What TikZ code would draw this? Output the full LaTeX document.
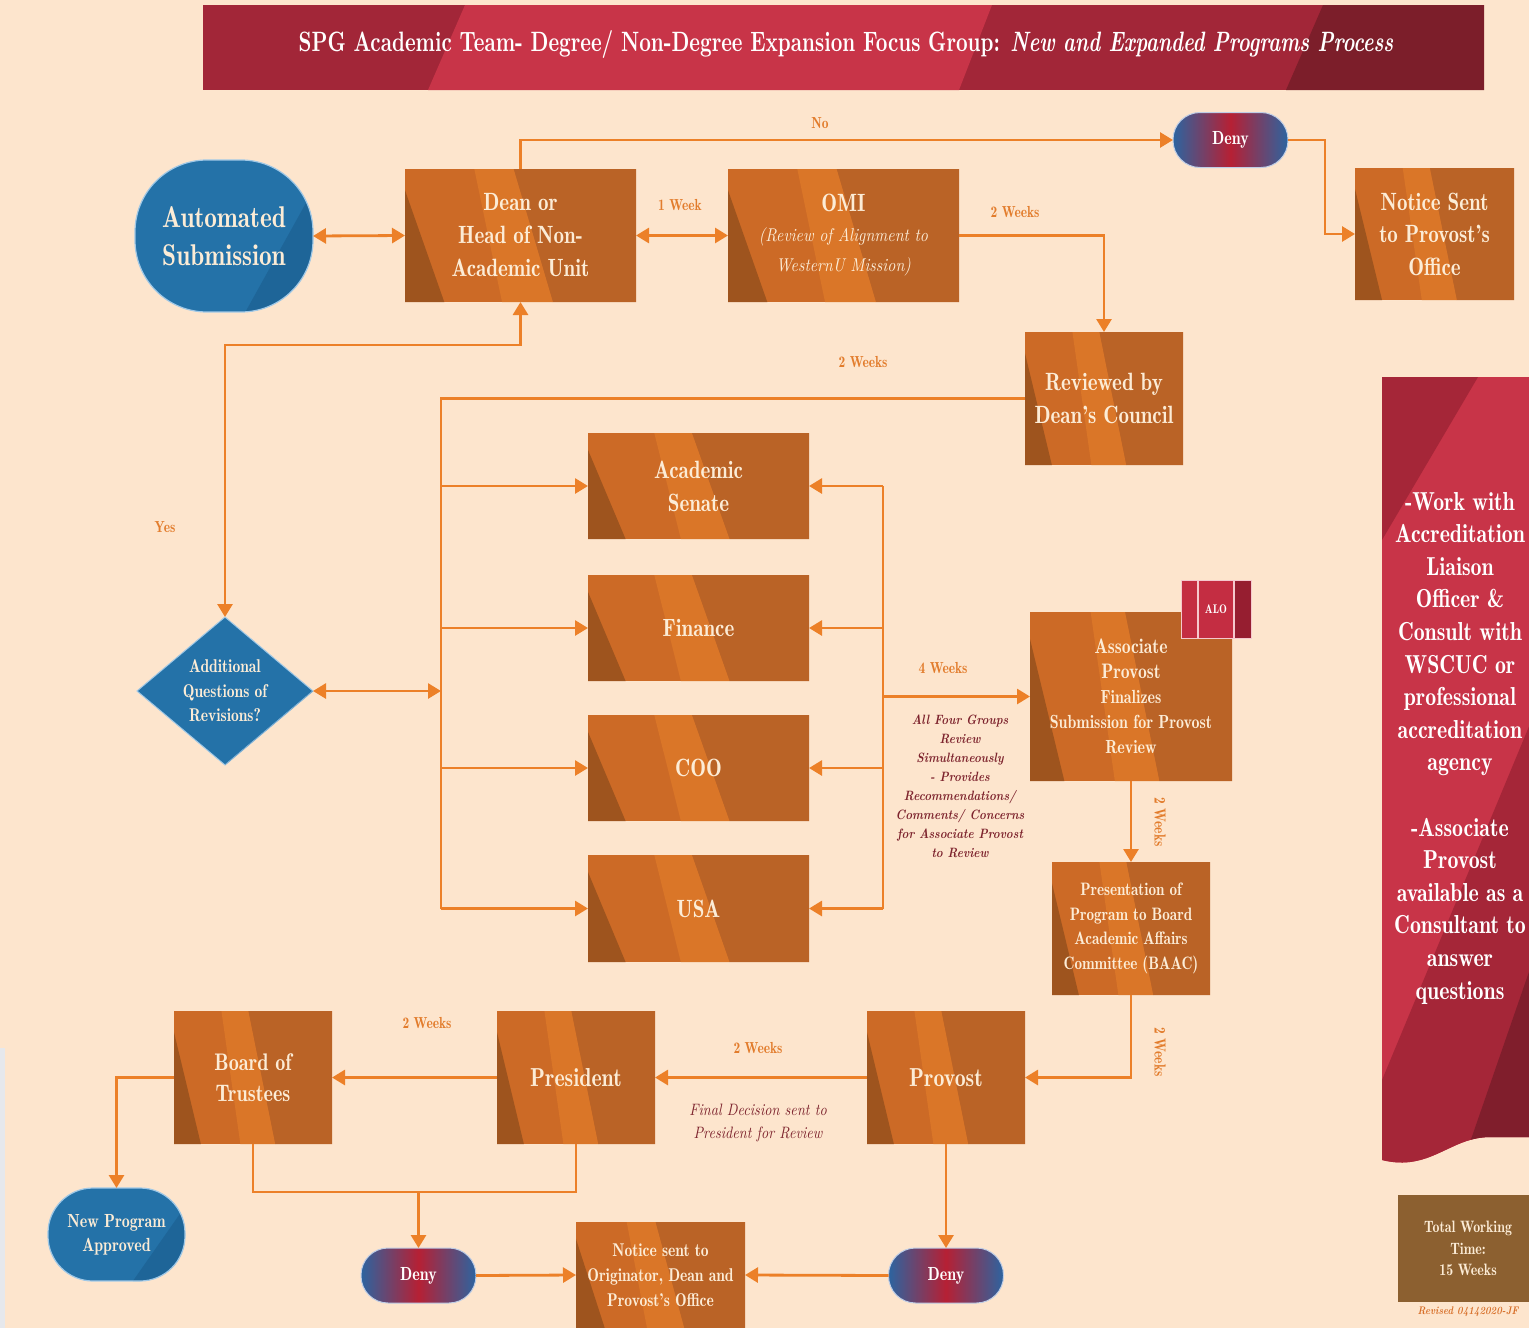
\documentclass[tikz,border=0pt]{standalone}
\usepackage{fontspec}
\setmainfont{lmroman10-regular.otf}[FakeStretch=0.86, BoldFont=lmroman10-bold.otf, ItalicFont=lmroman10-italic.otf, BoldItalicFont=lmroman10-bolditalic.otf]
\newfontfamily\demi{lmromandemi10-regular.otf}[FakeStretch=0.84]
\usetikzlibrary{arrows.meta,calc}
\definecolor{bg}{RGB}{253,229,205}
\definecolor{lineor}{RGB}{236,128,40}
\definecolor{labelor}{RGB}{226,124,44}
\definecolor{notered}{RGB}{125,35,45}
\definecolor{cream}{RGB}{252,236,214}
\definecolor{boxbase}{RGB}{204,106,38}
\definecolor{boxdark}{RGB}{158,84,30}
\definecolor{boxlight}{RGB}{218,118,40}
\definecolor{boxright}{RGB}{186,99,38}
\definecolor{bluebase}{RGB}{36,114,168}
\definecolor{bluedark}{RGB}{30,101,152}
\definecolor{bluerim}{RGB}{160,200,230}
\definecolor{denyblue}{RGB}{44,100,160}
\definecolor{denyred}{RGB}{182,32,52}
\definecolor{pillrim}{RGB}{190,205,230}
\definecolor{tdark}{RGB}{162,38,56}
\definecolor{tlight}{RGB}{200,52,72}
\definecolor{tdarkest}{RGB}{124,30,42}
\definecolor{pnlbase}{RGB}{200,52,72}
\definecolor{pnldark}{RGB}{165,38,56}
\definecolor{pnldarkest}{RGB}{128,30,44}
\definecolor{alored}{RGB}{196,45,66}
\definecolor{alodark}{RGB}{150,30,48}
\definecolor{alorim}{RGB}{245,200,205}
\definecolor{brownbox}{RGB}{140,96,48}
\definecolor{revor}{RGB}{215,110,40}
\definecolor{graystrip}{RGB}{230,232,236}
\newcommand\fsz[2]{\fontsize{#1}{#2}\selectfont}
\tikzset{
  conn/.style={draw=lineor, line width=2.8pt},
  >={Triangle[length=13pt,width=15pt]},
  boxtext/.style={text=cream, align=center, inner sep=0pt, outer sep=0pt},
  lbl/.style={text=labelor, font=\demi\fsz{16}{18}},
  note/.style={text=notered, align=center},
  denypill/.style={rounded corners=27pt, left color=denyblue, right color=denyblue, middle color=denyred, draw=pillrim, line width=1pt, minimum width=115pt, minimum height=55pt, text=white, font=\demi\fsz{19}{22}, inner sep=0pt, outer sep=0pt},
}
% orange striped box: name, x1, y1, x2, y2, font, text
\newcommand\obox[7]{%
  \begin{scope}[shift={(#2,#3)},xscale={#4-#2},yscale={#5-#3}]
    \fill[boxbase] (0,0) rectangle (1,1);
    \fill[boxright] (0.47,0) -- (1,0) -- (1,1) -- (0.64,1) -- cycle;
    \fill[boxlight] (0.30,0) -- (0.47,0) -- (0.64,1) -- (0.42,1) -- cycle;
    \fill[boxdark] (0,0.16) -- (0.17,1) -- (0,1) -- cycle;
  \end{scope}
  \node[boxtext, font=\demi#6, minimum width={#4-#2}, minimum height={#5-#3}] (#1) at ({(#2+#4)/2},{(#3+#5)/2}) {#7};}
% blue terminator: name, cx, cy, w, h, r, font, text
\newcommand\bshape[8]{%
  \begin{scope}
    \clip[rounded corners=#6] ({#2-#4/2},{#3-#5/2}) rectangle ({#2+#4/2},{#3+#5/2});
    \fill[bluebase] ({#2-#4/2},{#3-#5/2}) rectangle ({#2+#4/2},{#3+#5/2});
    \fill[bluedark] ({#2+0.12*#4},{#3+#5/2}) -- ({#2+#4/2},{#3-0.3*#5}) -- ({#2+#4/2},{#3+#5/2}) -- cycle;
  \end{scope}
  \node[boxtext, draw=bluerim, line width=1.2pt, rounded corners=#6, font=\demi#7, minimum width=#4, minimum height=#5] (#1) at (#2,#3) {#8};}
\begin{document}
\begin{tikzpicture}[x=1pt,y=-1pt]
\useasboundingbox (0,0) rectangle (1529,1328);
\clip (0,0) rectangle (1529,1328);
\fill[bg] (0,0) rectangle (1529,1328);
\fill[graystrip] (0,1048) rectangle (5,1328);

% title bar
\fill[tdark] (203,5) rectangle (1484,90);
\fill[tlight] (465,5) -- (992,5) -- (959,90) -- (428,90) -- cycle;
\fill[tdarkest] (1323,5) -- (1484,5) -- (1484,90) -- (1286,90) -- cycle;
\node[text=white, font=\rmfamily\bfseries\fsz{28}{30}] (title) at (846,44) {\scalebox{0.84}[1]{\rmfamily\bfseries\fsz{28}{30}SPG Academic Team- Degree/ Non-Degree Expansion Focus Group: \itshape New and Expanded Programs Process}};

% right panel
\begin{scope}
  \clip (1382,377) -- (1540,377) -- (1540,1137) -- (1490,1137) .. controls (1450,1137) and (1430,1172) .. (1382,1160) -- cycle;
  \fill[pnlbase] (1370,370) rectangle (1540,1200);
  \fill[pnldark] (1382,377) -- (1478,377) -- (1382,540) -- cycle;
  \fill[pnldark] (1540,700) -- (1540,1200) -- (1382,1200) -- (1382,1080) -- cycle;
  \fill[pnldarkest] (1540,940) -- (1540,1200) -- (1450,1200) -- cycle;
\end{scope}
\node[text=white, align=center, font=\demi\fsz{26}{32.6}] (panel) at (1460,748) {-Work with\\Accreditation\\Liaison\\Officer \&\\Consult with\\WSCUC or\\professional\\accreditation\\agency\\[32.6pt]-Associate\\Provost\\available as a\\Consultant to\\answer\\questions};

% blue shapes
\bshape{auto}{224}{236}{178}{152}{72pt}{\fsz{30}{38}}{Automated\\Submission}
\bshape{newp}{116.5}{1234.5}{137}{93}{45pt}{\fsz{19}{24}}{New Program\\Approved}

% diamond
\fill[bluebase, draw=bluerim, line width=1pt] (137,691) -- (225,617) -- (313,691) -- (225,765) -- cycle;
\fill[bluedark] (269,728) -- (313,691) -- (225,765) -- cycle;
\node[boxtext, font=\demi\fsz{18.5}{24.5}, minimum width=176pt, minimum height=148pt] (diam) at (225,691) {Additional\\Questions of\\Revisions?};

% orange boxes
\obox{dean}{405}{169}{636}{302}{\fsz{25}{33}}{Dean or\\Head of Non-\\Academic Unit}
\obox{omi}{728}{169}{959}{302}{\fsz{25}{30}}{OMI\\\rmfamily\itshape\fsz{18.5}{30}(Review of Alignment to\\\rmfamily\itshape\fsz{18.5}{30}WesternU Mission)}
\obox{notice1}{1355}{168}{1514}{300}{\fsz{25}{32.5}}{Notice Sent\\to Provost’s\\Office}
\obox{rev}{1025}{332}{1183}{465}{\fsz{25}{33}}{Reviewed by\\Dean’s Council}
\obox{acad}{588}{433}{809}{539}{\fsz{25}{33}}{Academic\\Senate}
\obox{fin}{588}{575}{809}{681}{\fsz{25}{33}}{Finance}
\obox{coo}{588}{715}{809}{821}{\fsz{25}{33}}{COO}
\obox{usa}{588}{855}{809}{962}{\fsz{25}{33}}{USA}
\obox{asp}{1030}{612}{1232}{781}{\fsz{19}{25}}{\fsz{21}{25}Associate\\\fsz{21}{27}Provost\\Finalizes\\Submission for Provost\\Review}
\obox{baac}{1052}{862}{1210}{995}{\fsz{18}{24.5}}{Presentation of\\Program to Board\\Academic Affairs\\Committee (BAAC)}
\obox{prov}{867}{1011}{1025}{1144}{\fsz{26}{31}}{Provost}
\obox{pres}{497}{1011}{655}{1144}{\fsz{26}{31}}{President}
\obox{bot}{174}{1011}{332}{1144}{\fsz{24}{31}}{Board of\\Trustees}
\obox{notice2}{576}{1222}{745}{1328}{\fsz{18.5}{25}}{Notice sent to\\Originator, Dean and\\Provost’s Office}

% ALO tag
\node[fill=alored, draw=alorim, line width=1pt, minimum width=70pt, minimum height=58pt, inner sep=0pt, text=white, font=\demi\fsz{12.5}{15}] (alo) at (1216,609) {ALO};
\fill[alodark] (1234,580.5) rectangle (1250.5,637.5);
\draw[alorim, line width=1.5pt] (1198,580) -- (1198,638) (1234,580) -- (1234,638);

% deny pills
\node[denypill] (deny1) at (1230.5,140) {Deny};
\node[denypill] (deny2) at (418.5,1275.5) {Deny};
\node[denypill] (deny3) at (946,1275.5) {Deny};

% total time box
\node[fill=brownbox, minimum width=140pt, minimum height=107pt, text=cream, align=center, font=\demi\fsz{16.5}{21.5}, inner sep=0pt] (total) at (1468,1248.5) {Total Working\\Time:\\15 Weeks};
\node[text=revor, font=\bfseries\itshape\fsz{11}{14}] (revised) at (1468,1312) {Revised 04142020-JF};

% connectors
\draw[conn,<->] (auto.east) -- (dean.west);
\draw[conn,<->] (dean.east) -- (omi.west);
\draw[conn,->] (dean.north) |- (deny1.west);
\draw[conn,->] (deny1.east) -- ++(37,0) |- (notice1.west);
\draw[conn,->] (omi.east) -| (rev.north);
\coordinate (tl) at (441,398.5);
\draw[conn] (rev.west) -- (tl) -- (tl |- usa.west);
\foreach \n in {acad,fin,coo,usa} \draw[conn,->] (tl |- \n.west) -- (\n.west);
\draw[conn,<->] (diam.east) -- (tl |- diam.east);
\coordinate (yc) at (225,345);
\draw[conn,<->] (diam.north) -- (yc) -| (dean.south);
\coordinate (tr) at (883,486);
\draw[conn] (tr) -- (tr |- usa.east);
\foreach \n in {acad,fin,coo,usa} \draw[conn,->] (tr |- \n.east) -- (\n.east);
\draw[conn,->] (tr |- asp.west) -- (asp.west);
\draw[conn,->] (asp.south) -- (baac.north);
\draw[conn,->] (baac.south) |- (prov.east);
\draw[conn,->] (prov.west) -- (pres.east);
\draw[conn,->] (pres.west) -- (bot.east);
\draw[conn,->] (bot.west) -| (newp.north);
\coordinate (bj) at (418.5,1192);
\draw[conn] (bot.south) |- (bj) -| (pres.south);
\draw[conn,->] (bj) -- (deny2.north);
\draw[conn,->] (deny2.east) -- (notice2.west);
\draw[conn,->] (prov.south) -- (deny3.north);
\draw[conn,->] (deny3.west) -- (notice2.east);

% labels
\node[lbl] (lno) at (820,123) {No};
\node[lbl] (l1w) at (680,205) {1 Week};
\node[lbl] (l2a) at (1015,212) {2 Weeks};
\node[lbl] (l2b) at (863,362) {2 Weeks};
\node[lbl] (lyes) at (165,527) {Yes};
\node[lbl] (l4w) at (943,668) {4 Weeks};
\node[lbl, rotate=-90] (l2c) at (1160,822) {2 Weeks};
\node[lbl, rotate=-90] (l2d) at (1160,1052) {2 Weeks};
\node[lbl] (l2e) at (427,1023) {2 Weeks};
\node[lbl] (l2f) at (758,1048) {2 Weeks};
\node[note, font=\bfseries\itshape\fsz{13.5}{19}] (allfour) at (960,786) {All Four Groups\\Review\\Simultaneously\\- Provides\\Recommendations/\\Comments/ Concerns\\for Associate Provost\\to Review};
\node[note, font=\itshape\fsz{16.5}{23}] (final) at (758,1123) {Final Decision sent to\\President for Review};
\end{tikzpicture}
\end{document}
